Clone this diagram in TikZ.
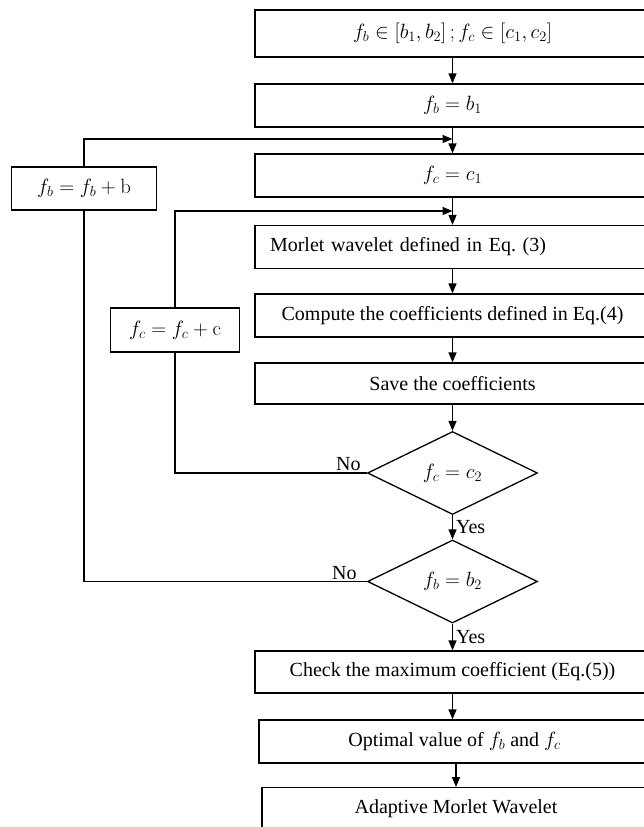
\documentclass[tikz,border=0pt]{standalone}
\usepackage[no-math]{fontspec}
\setmainfont{Liberation Serif}
\usetikzlibrary{arrows.meta,shapes.geometric}
\frenchspacing
\begin{document}
\begin{tikzpicture}[x=1bp,y=-1bp,
  every node/.style={font=\fontsize{20bp}{24bp}\selectfont},
  mathtxt/.style={font=\fontsize{21.5bp}{25bp}\selectfont},
  box/.style={draw,line width=1.3bp,minimum height=43bp,inner sep=0pt},
  bigbox/.style={box,minimum width=395bp},
  dia/.style={draw,line width=1.3bp,diamond,aspect=2.05,minimum width=170bp,minimum height=83bp,inner sep=0pt,mathtxt},
  ln/.style={line width=1.3bp},
  arr/.style={ln,-{Triangle[length=10bp,width=8bp]}},
  lbl/.style={inner sep=3bp}]
\useasboundingbox (0,0) rectangle (644,827);
\fill[white] (0,0) rectangle (644,827);
% main column
\node[bigbox,mathtxt,minimum height=47bp] (b1) at (452.5,33.5) {$f_b \in [b_1, b_2]\,; f_c \in [c_1, c_2]$};
\node[bigbox,mathtxt] (b2) at (452.5,105.5) {$f_b = b_1$};
\node[bigbox,mathtxt] (b3) at (452.5,175.5) {$f_c = c_1$};
\node[bigbox,text width=365bp,align=left,inner xsep=15bp] (b4) at (452.5,247) {Morlet wavelet defined in Eq. (3)};
\node[bigbox] (b5) at (452.5,315.5) {Compute the coefficients defined in Eq.(4)};
\node[bigbox,minimum height=41bp] (b6) at (452.5,383.5) {Save the coefficients};
\node[dia] (d1) at (452.5,473) {$f_c = c_2$};
\node[dia] (d2) at (452.5,581.5) {$f_b = b_2$};
\node[bigbox,minimum height=42bp] (b7) at (452.5,672) {Check the maximum coefficient (Eq.(5))};
\node[box,minimum width=391bp] (b8) at (454.5,741.5) {Optimal value of $f_b$ and $f_c$};
\node[box,minimum width=388bp,anchor=north,inner ysep=5bp,text height=21bp,text depth=30bp] (b9) at (456,787) {Adaptive Morlet Wavelet};
% side boxes
\node[box,mathtxt,minimum width=145bp] (fbb) at (84,188.5) {$f_b = f_b + \mathrm{b}$};
\node[box,mathtxt,minimum width=129bp,minimum height=44bp] (fcb) at (175,330) {$f_c = f_c + \mathrm{c}$};
% junctions
\coordinate (j1) at (452.5,139);
\coordinate (j2) at (452.5,211);
% connectors
\draw[arr] (b1) -- (b2);
\draw[arr] (b2) -- (b3);
\draw[arr] (b3) -- (b4);
\draw[arr] (b4) -- (b5);
\draw[arr] (b5) -- (b6);
\draw[arr] (b6) -- (d1);
\draw[arr] (d1) -- node[right,lbl] (yes1) {Yes} (d2);
\draw[arr] (d2) -- node[right,lbl] (yes2) {Yes} (b7);
\draw[arr] (b7.south) -- (b7.south |- b8.north);
\draw[arr] (b9.north |- b8.south) -- (b9.north);
\draw[ln] (d1.west) -| (fcb.south);
\draw[arr] (fcb.north) |- (j2);
\draw[ln] (d2.west) -| (fbb.south);
\draw[arr] (fbb.north) |- (j1);
\node[anchor=south east,inner sep=2bp,xshift=-4bp] (no1) at (d1.west) {No};
\node[anchor=south east,inner sep=2bp,xshift=-8bp] (no2) at (d2.west) {No};
\end{tikzpicture}
\end{document}
